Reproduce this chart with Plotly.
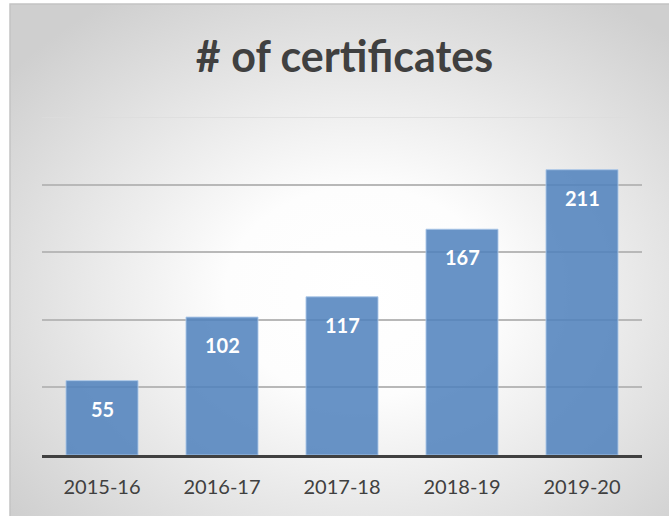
import base64
import plotly.graph_objects as go

categories = ["2015-16", "2016-17", "2017-18", "2018-19", "2019-20"]
certificates = [55, 102, 117, 167, 211]
title_text = "# of certificates"

svg = """<svg xmlns='http://www.w3.org/2000/svg' width='660' height='512' viewBox='0 0 660 512' preserveAspectRatio='none'>
<defs><radialGradient id='g' cx='0.53' cy='0.56' r='0.68'>
<stop offset='0' stop-color='#ffffff'/>
<stop offset='0.3' stop-color='#fdfdfd'/>
<stop offset='1' stop-color='#cfcfcf'/>
</radialGradient></defs>
<rect x='0' y='0' width='660' height='512' fill='url(#g)'/>
</svg>"""
bg_src = "data:image/svg+xml;base64," + base64.b64encode(svg.encode()).decode()

fig = go.Figure()
fig.add_trace(go.Bar(
    x=categories,
    y=certificates,
    marker=dict(color="rgba(79,129,189,0.86)",
                line=dict(color="rgba(170,198,232,0.9)", width=1)),
    width=0.6,
    hoverinfo="skip",
))

for c, v in zip(categories, certificates):
    fig.add_annotation(x=c, y=v, text=f"<b>{v}</b>", showarrow=False,
                       yshift=-28, font=dict(family="Lato", size=20, color="white"))

# plot area: x 42..642 px, y 117..455 px
x0, x1 = (10 - 42) / 600, (672 - 42) / 600
y0, y1 = (455 - 518) / 338, (455 - 4) / 338
fig.add_layout_image(dict(source=bg_src, xref="paper", yref="paper",
                          x=x0, y=y1, sizex=x1 - x0, sizey=y1 - y0,
                          sizing="stretch", layer="below", xanchor="left", yanchor="top"))
fig.add_shape(type="rect", xref="paper", yref="paper", x0=x0, x1=x1, y0=y0, y1=y1,
              line=dict(color="#c4c4c4", width=1.5), layer="below")
fig.add_shape(type="line", xref="paper", yref="y", x0=0, x1=1, y0=250, y1=250,
              line=dict(color="#dcdcdc", width=1.5), layer="below")

fig.update_layout(
    width=669, height=516,
    margin=dict(l=42, r=27, t=117, b=61),
    paper_bgcolor="white",
    plot_bgcolor="rgba(0,0,0,0)",
    showlegend=False,
    bargap=0.4,
    title=dict(text=f"<b>{title_text}</b>", x=0.515, xanchor="center",
               y=1 - 57 / 516, yanchor="middle",
               font=dict(family="Lato", size=43, color="#404040")),
    xaxis=dict(showgrid=False, ticks="", showline=True, linecolor="#404040", linewidth=3,
               tickfont=dict(family="Lato", size=20, color="#404040"), ticklabelstandoff=12),
    yaxis=dict(range=[0, 250], tickvals=[50, 100, 150, 200], showticklabels=False,
               showgrid=True, gridcolor="#b8b8b8", gridwidth=1.5, zeroline=False,
               showline=False, ticks=""),
)

fig.write_html("out.html", config={"displayModeBar": False},
               post_script="document.body.style.margin='0';document.body.style.overflow='hidden';")
